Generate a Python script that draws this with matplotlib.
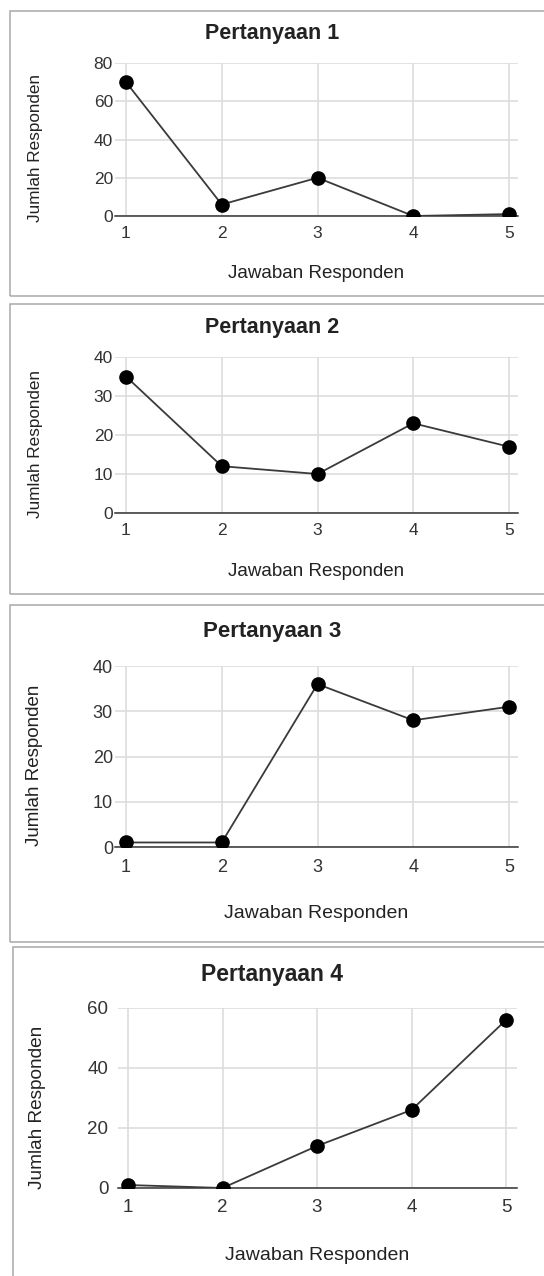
import numpy as np
import matplotlib
matplotlib.use("Agg")
import matplotlib.pyplot as plt
from matplotlib.patches import Rectangle

plt.rcParams['font.family'] = ['Liberation Sans', 'DejaVu Sans']

W, H = 544, 1276

jawaban = [1, 2, 3, 4, 5]
judul = ["Pertanyaan 1", "Pertanyaan 2", "Pertanyaan 3", "Pertanyaan 4"]
p1 = [70, 6, 20, 0, 1]
p2 = [35, 12, 10, 23, 17]
p3 = [1, 1, 36, 28, 31]
p4 = [1, 0, 14, 26, 56]
nilai = [p1, p2, p3, p4]
yticks = [[0, 20, 40, 60, 80], [0, 10, 20, 30, 40], [0, 10, 20, 30, 40], [0, 20, 40, 60]]
xlabel = "Jawaban Responden"
ylabel = "Jumlah Responden"

# layout in pixels
boxes = [(10, 11, 296), (10, 304, 594), (10, 605, 942), (13, 947, 1300)]
# left, right, top(ymax), bottom(y=0), px of x=1, px of x=5
plots = [(115, 518, 63, 216, 126, 509), (115, 518, 357, 513, 126, 509),
         (115, 518, 666, 847, 126, 509), (118, 517, 1008, 1188, 128, 506)]
title_y = [33, 327, 632, 974]
xlab_y = [274, 572, 913, 1256]
ylab_x = [36, 36, 35, 38]
fs_title = [15.5, 15.5, 16, 16.5]
fs_tick = [12.5, 12.5, 13, 13.5]
fs_xlab = [13.5, 13.5, 14, 14]
fs_ylab = [12.3, 12.3, 13.5, 13.7]
xpad = [7, 7, 8.5, 8]
ypad = [1.5, 1.5, 1.5, 7]

fig = plt.figure(figsize=(W / 100, H / 100), dpi=100)


def fx(px):
    return px / W


def fy(py):
    return 1 - py / H


for i in range(4):
    bl, bt, bb = boxes[i]
    fig.patches.append(Rectangle((fx(bl), fy(bb)), fx(600 - bl), (bb - bt) / H,
                                 transform=fig.transFigure, fill=False,
                                 edgecolor='#a8a8a8', linewidth=1.1))

    l, r, t, b, x1, x5 = plots[i]
    ax = fig.add_axes([fx(l), fy(b), (r - l) / W, (b - t) / H])
    u = (x5 - x1) / 4
    ax.set_xlim(1 - (x1 - l) / u, 5 + (r - x5) / u)
    ax.set_ylim(0, yticks[i][-1])
    ax.set_xticks(jawaban)
    ax.set_yticks(yticks[i])
    ax.grid(True, color='#dddddd', linewidth=1.2)
    ax.set_axisbelow(True)
    for s in ['left', 'right', 'top']:
        ax.spines[s].set_visible(False)
    ax.spines['bottom'].set_color('#333333')
    ax.spines['bottom'].set_linewidth(1.1)
    ax.tick_params(length=0, colors='#333333', labelsize=fs_tick[i])
    ax.tick_params(axis='x', pad=xpad[i])
    ax.tick_params(axis='y', pad=ypad[i])

    ax.plot(jawaban, nilai[i], color='#3a3a3a', linewidth=1.3,
            marker='o', markersize=9.5, markerfacecolor='black',
            markeredgecolor='black', zorder=3)

    fig.text(fx(272), fy(title_y[i]), judul[i], ha='center', va='center',
             fontsize=fs_title[i], fontweight='bold', color='#222222')
    fig.text(fx((l + r) / 2), fy(xlab_y[i]), xlabel, ha='center', va='center',
             fontsize=fs_xlab[i], color='#222222')
    fig.text(fx(ylab_x[i]), fy((t + b) / 2 + 9), ylabel, ha='center', va='center',
             rotation=90, fontsize=fs_ylab[i], color='#222222')

fig.savefig("out.png", dpi=100)
